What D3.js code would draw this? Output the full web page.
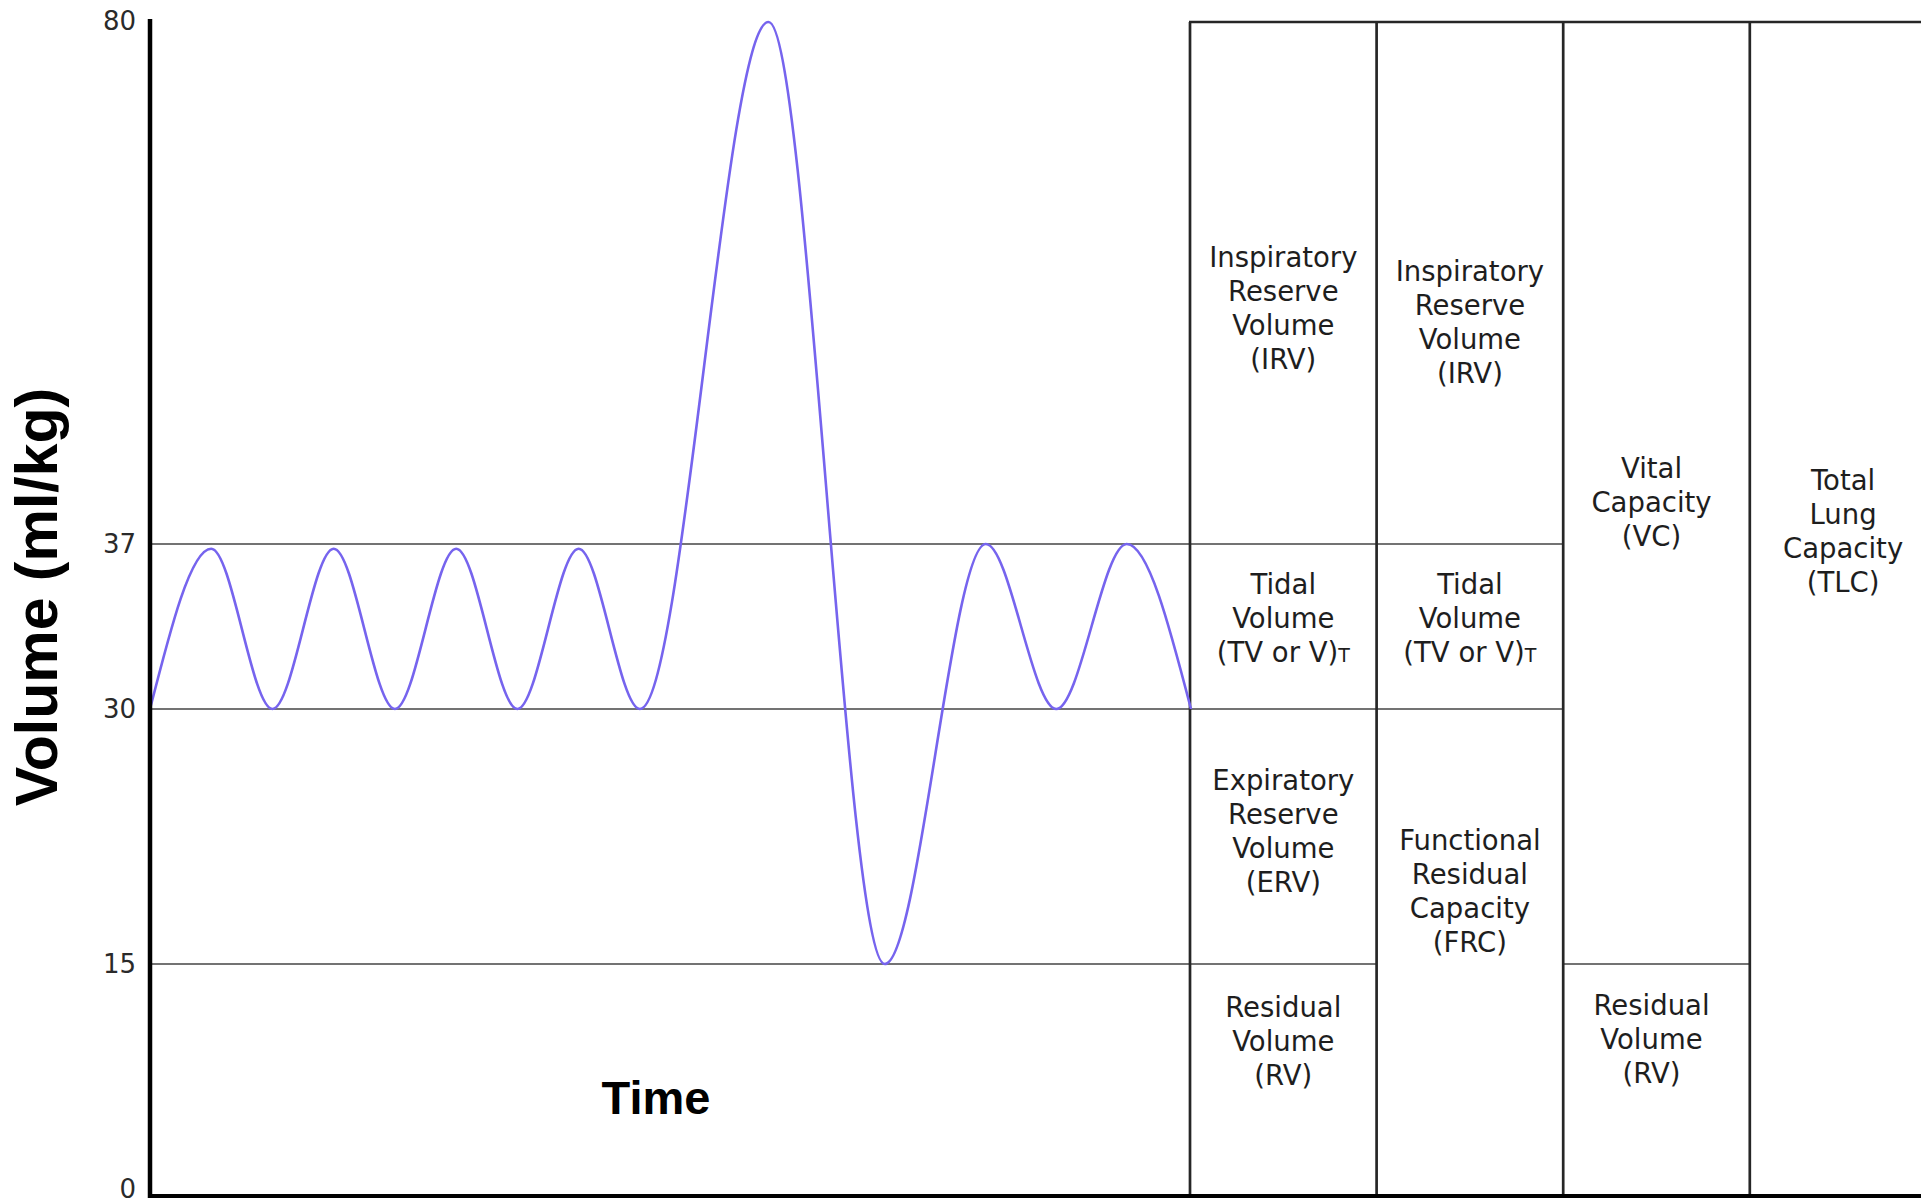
<!DOCTYPE html>
<html>
<head>
<meta charset="utf-8">
<script src="https://cdn.jsdelivr.net/npm/d3@7/dist/d3.min.js"></script>
<style>
  html, body { margin: 0; padding: 0; background: #fff; }
  svg { display: block; }
</style>
</head>
<body>
<svg id="chart" width="1921" height="1198"></svg>
<script>
// ---------------- data ----------------
const volumeTicks = [0, 15, 30, 37, 80];            // ml/kg tick labels
const referenceLevels = [15, 30, 37];               // horizontal guide levels
const breathTime = [0, 1, 2, 3, 4, 5, 6, 7, 8, 10.1, 12, 13.65, 14.8, 15.95, 17];
const breathVolume = [30, 36.8, 30, 36.8, 30, 36.8, 30, 36.8, 30, 80, 15, 37, 30, 37, 30];
const columnIds = ["volumes", "frc", "vc", "tlc"];
const cellColumn = [0, 0, 0, 0, 1, 1, 1, 2, 2, 3];
const cellLow    = [0, 15, 30, 37, 0, 30, 37, 0, 15, 0];
const cellHigh   = [15, 30, 37, 80, 30, 37, 80, 15, 80, 80];
const cellLabels = [
  ["Residual", "Volume", "(RV)"],
  ["Expiratory", "Reserve", "Volume", "(ERV)"],
  ["Tidal", "Volume", "(TV or V)_T"],
  ["Inspiratory", "Reserve", "Volume", "(IRV)"],
  ["Functional", "Residual", "Capacity", "(FRC)"],
  ["Tidal", "Volume", "(TV or V)_T"],
  ["Inspiratory", "Reserve", "Volume", "(IRV)"],
  ["Residual", "Volume", "(RV)"],
  ["Vital", "Capacity", "(VC)"],
  ["Total", "Lung", "Capacity", "(TLC)"]
];
const yAxisTitle = "Volume (ml/kg)";
const xAxisTitle = "Time";

// ---------------- layout ----------------
const svg = d3.select("#chart");
svg.append("rect").attr("width", 1921).attr("height", 1198).attr("fill", "#fff");

const plotLeft = 150, plotRight = 1191;
const y = d3.scaleLinear().domain(volumeTicks).range([1195, 964, 709, 544, 22]);
const x = d3.scaleLinear().domain([0, d3.max(breathTime)]).range([plotLeft, plotRight]);
const colX = d3.scaleBand().domain(columnIds).range([1190, 1190 + 4 * 186.6]).padding(0);

const textFont = "'DejaVu Sans', Verdana, sans-serif";
const lineGray = "#737373";
const boxDark = "#262626";

// guide lines in the plot area
svg.append("g").selectAll("line").data(referenceLevels).join("line")
  .attr("x1", plotLeft).attr("x2", colX.range()[0])
  .attr("y1", d => y(d)).attr("y2", d => y(d))
  .attr("stroke", lineGray).attr("stroke-width", 1.9);

// cell dividers
const cells = cellColumn.map((c, i) => ({ col: columnIds[c], lo: cellLow[i], hi: cellHigh[i], label: cellLabels[i] }));
svg.append("g").selectAll("line").data(cells.filter(d => d.lo > 0)).join("line")
  .attr("x1", d => colX(d.col)).attr("x2", d => colX(d.col) + colX.bandwidth())
  .attr("y1", d => y(d.lo)).attr("y2", d => y(d.lo))
  .attr("stroke", lineGray).attr("stroke-width", 1.9);

// column verticals
svg.append("g").selectAll("line").data(columnIds).join("line")
  .attr("x1", d => colX(d)).attr("x2", d => colX(d))
  .attr("y1", y(80)).attr("y2", y(0))
  .attr("stroke", boxDark).attr("stroke-width", 2.7);
svg.append("line")
  .attr("x1", colX(columnIds[columnIds.length - 1]) + colX.bandwidth())
  .attr("x2", colX(columnIds[columnIds.length - 1]) + colX.bandwidth())
  .attr("y1", y(80)).attr("y2", y(0))
  .attr("stroke", boxDark).attr("stroke-width", 2.7);
// top edge of boxes
svg.append("line")
  .attr("x1", colX.range()[0] - 1).attr("x2", colX.range()[1])
  .attr("y1", y(80)).attr("y2", y(80))
  .attr("stroke", boxDark).attr("stroke-width", 2.7);

// cell labels
const labelNudge = [-38, -5, -8, 25, -61, -8, 39, -40, 9, -77];
const lineH = 34;
const labelG = svg.append("g")
  .attr("font-family", textFont).attr("font-size", 27.5).attr("fill", "#1e1e1e")
  .attr("text-anchor", "middle");
cells.forEach((c, i) => {
  const cx = colX(c.col) + colX.bandwidth() / 2 - (c.col === "vc" ? 5 : 0);
  const cy = (y(c.lo) + y(c.hi)) / 2 + labelNudge[i];
  const n = c.label.length;
  c.label.forEach((ln, j) => {
    const t = labelG.append("text")
      .attr("x", cx)
      .attr("y", cy + (j - (n - 1) / 2) * lineH)
      .attr("dy", "0.36em");
    if (ln.includes("_")) {
      const parts = ln.split("_");
      t.append("tspan").text(parts[0]);
      t.append("tspan").attr("font-size", 19).text(parts[1]);
    } else {
      t.text(ln);
    }
  });
});

// breathing curve
const line = d3.line()
  .x((d, i) => x(breathTime[i]))
  .y(d => y(d))
  .curve(d3.curveMonotoneX);
svg.append("path")
  .datum(breathVolume)
  .attr("d", line)
  .attr("fill", "none")
  .attr("stroke", "#7664ee")
  .attr("stroke-width", 2.6);

// y axis
const yAxis = d3.axisLeft(y).tickValues(volumeTicks).tickSize(0).tickPadding(14).tickFormat(d3.format("d"));
const axG = svg.append("g").attr("transform", `translate(${plotLeft},0)`).call(yAxis);
axG.select(".domain").attr("stroke", "#000").attr("stroke-width", 4.5)
  .attr("d", `M0,${y(80) - 3}V1198`);
axG.selectAll(".tick text")
  .attr("font-family", textFont).attr("font-size", 26).attr("fill", "#2a2a2a");
axG.selectAll(".tick").filter(d => d === 0).select("text").attr("dy", "0.1em");
axG.selectAll(".tick").filter(d => d === 80).select("text").attr("dy", "0.28em");

// bottom axis line
svg.append("line")
  .attr("x1", plotLeft - 2).attr("x2", 1921)
  .attr("y1", y(0) + 1).attr("y2", y(0) + 1)
  .attr("stroke", "#000").attr("stroke-width", 4);

// axis titles
svg.append("text")
  .attr("transform", `translate(57, 597) rotate(-90)`)
  .attr("text-anchor", "middle")
  .attr("font-family", "'Liberation Sans', Arial, sans-serif")
  .attr("font-weight", "bold").attr("font-size", 59).attr("fill", "#000")
  .text(yAxisTitle);
svg.append("text")
  .attr("x", (plotLeft + colX.range()[0]) / 2 - 14).attr("y", 1114)
  .attr("text-anchor", "middle")
  .attr("font-family", "'Liberation Sans', Arial, sans-serif")
  .attr("font-weight", "bold").attr("font-size", 47).attr("fill", "#000")
  .text(xAxisTitle);
</script>
</body>
</html>
